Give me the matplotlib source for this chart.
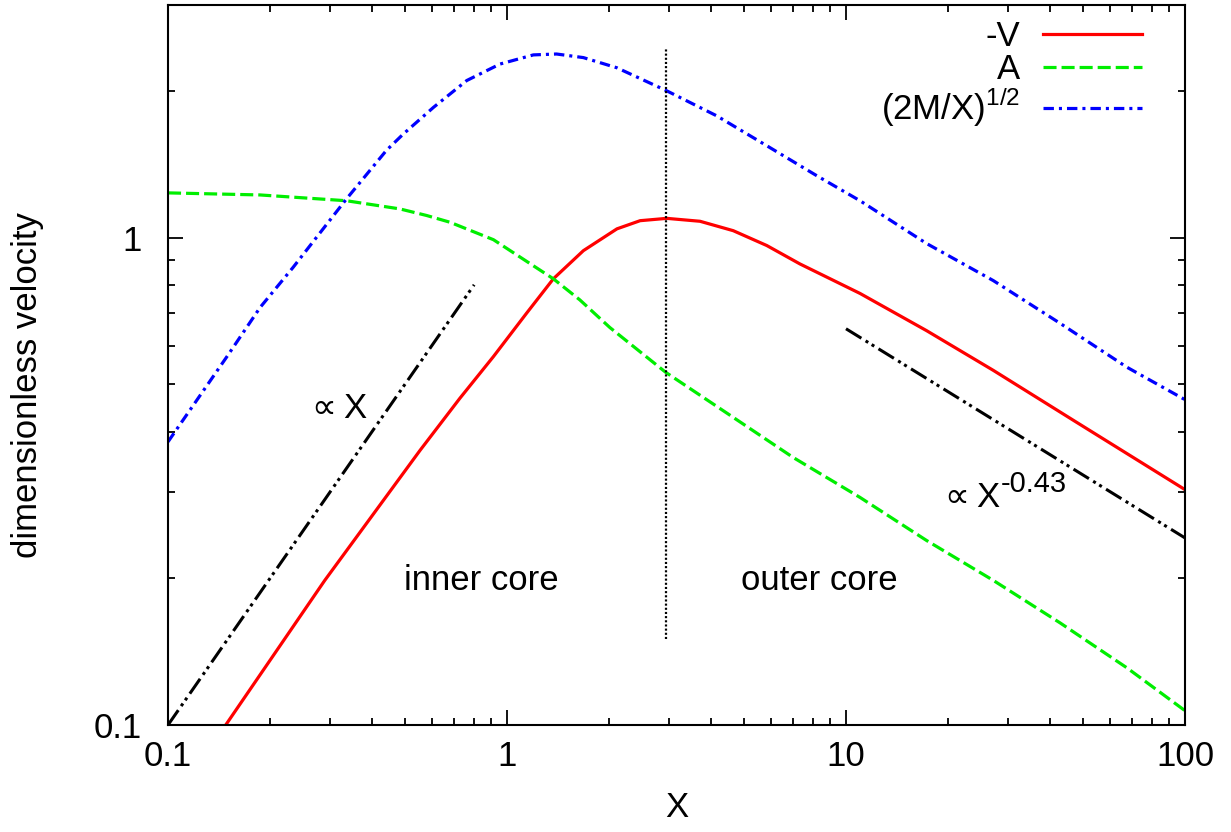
import matplotlib
matplotlib.use('Agg')
import matplotlib.pyplot as plt
from matplotlib.ticker import NullFormatter, LogLocator

# -V (solid red)
x_v = [0.1, 0.148, 0.29, 0.554, 0.726, 0.912, 1.143, 1.37, 1.68, 2.11, 2.47,
       2.96, 3.71, 4.65, 5.84, 7.31, 11.0, 17.3, 27.2, 46.8, 100]
v = [0.068, 0.1, 0.198, 0.366, 0.468, 0.57, 0.70, 0.823, 0.94, 1.042, 1.083,
     1.095, 1.080, 1.033, 0.963, 0.883, 0.768, 0.644, 0.534, 0.422, 0.304]

# A (dashed green)
x_a = [0.1, 0.187, 0.336, 0.483, 0.579, 0.679, 0.912, 1.37, 1.64, 2.01, 2.94,
       4.46, 6.98, 11.0, 17.3, 27.2, 42.8, 67.4, 100]
a = [1.235, 1.223, 1.19, 1.145, 1.11, 1.075, 0.99, 0.823, 0.745, 0.654, 0.529,
     0.436, 0.354, 0.293, 0.239, 0.198, 0.162, 0.131, 0.107]

# (2M/X)^1/2 (blue)
x_b = [0.1, 0.149, 0.187, 0.234, 0.336, 0.441, 0.494, 0.607, 0.761, 0.954,
       1.196, 1.40, 1.68, 2.11, 2.96, 4.15, 5.84, 8.19, 11.0, 17.3, 27.2,
       42.8, 67.4, 100]
b = [0.381, 0.569, 0.719, 0.869, 1.20, 1.51, 1.63, 1.85, 2.10, 2.27,
     2.37, 2.38, 2.34, 2.23, 2.00, 1.778, 1.543, 1.34, 1.19, 0.972, 0.816,
     0.667, 0.542, 0.465]

# power-law guides
x_lin = [0.1, 0.8]
y_lin = [0.1, 0.8]
x_pow = [10, 100]
y_pow = [0.65, 0.242]

# inner/outer core boundary
x_core = [2.95, 2.95]
y_core = [0.15, 2.44]

plt.rcParams['font.family'] = ['Liberation Sans', 'DejaVu Sans']
plt.rcParams['font.size'] = 25
plt.rcParams['lines.scale_dashes'] = False

fig = plt.figure(figsize=(12.31, 8.32), dpi=100)
ax = fig.add_axes([168/1231, 1 - 725/832, 1017/1231, 720/832])

ax.plot(x_v, v, color='#ff0000', lw=2.3, label='-V')
ax.plot(x_a, a, color='#00ee00', lw=2.3, dashes=(9.4, 3.6), label='A')
ax.plot(x_b, b, color='#0000ff', lw=2.3, dashes=(7.5, 3.6, 2.2, 3.6),
        label=r'(2M/X)$^{\mathregular{1/2}}$')
ax.plot(x_lin, y_lin, color='black', lw=2.2, dashes=(13, 3.6, 2.2, 2.9, 2.2, 3.6))
ax.plot(x_pow, y_pow, color='black', lw=2.2, dashes=(13, 3.6, 2.2, 2.9, 2.2, 3.6))
ax.plot(x_core, y_core, color='black', lw=1.6, dashes=(1.5, 1.5))

# annotations
ax.text(0.2535, 0.426, r'$\propto$X', ha='left', va='baseline')
ax.text(18.68, 0.280, r'$\propto$X', ha='left', va='baseline')
ax.text(28.6, 0.300, '-0.43', ha='left', va='baseline', fontsize=21)
ax.text(0.838, 0.189, 'inner core', ha='center', va='baseline')
ax.text(8.37, 0.189, 'outer core', ha='center', va='baseline')

ax.set_xscale('log')
ax.set_yscale('log')
ax.set_xlim(0.1, 100)
ax.set_ylim(0.1, 3)
ax.set_xticks([0.1, 1, 10, 100], labels=['0.1', '1', '10', '100'])
ax.set_yticks([0.1, 1], labels=['0.1', '1'])
ax.xaxis.set_minor_locator(LogLocator(subs=range(2, 10)))
ax.yaxis.set_minor_locator(LogLocator(subs=range(2, 10)))
ax.xaxis.set_minor_formatter(NullFormatter())
ax.yaxis.set_minor_formatter(NullFormatter())

ax.tick_params(which='both', direction='in', top=True, right=True, width=1.3)
ax.tick_params(which='major', length=11)
ax.tick_params(which='minor', length=5)
ax.tick_params(axis='x', pad=11)
ax.tick_params(axis='y', pad=19)
for s in ax.spines.values():
    s.set_linewidth(1.5)

ax.set_xlabel('X')
ax.set_ylabel('dimensionless velocity')
ax.xaxis.set_label_coords(0.5, -0.092)
ax.yaxis.set_label_coords(-0.122, 0.472)

ax.legend(loc='upper right', bbox_to_anchor=(0.958, 0.979), frameon=False,
          markerfirst=False, borderpad=0, borderaxespad=0, labelspacing=0,
          handlelength=2.85, handletextpad=0.66)

plt.savefig('out.png', dpi=100)
